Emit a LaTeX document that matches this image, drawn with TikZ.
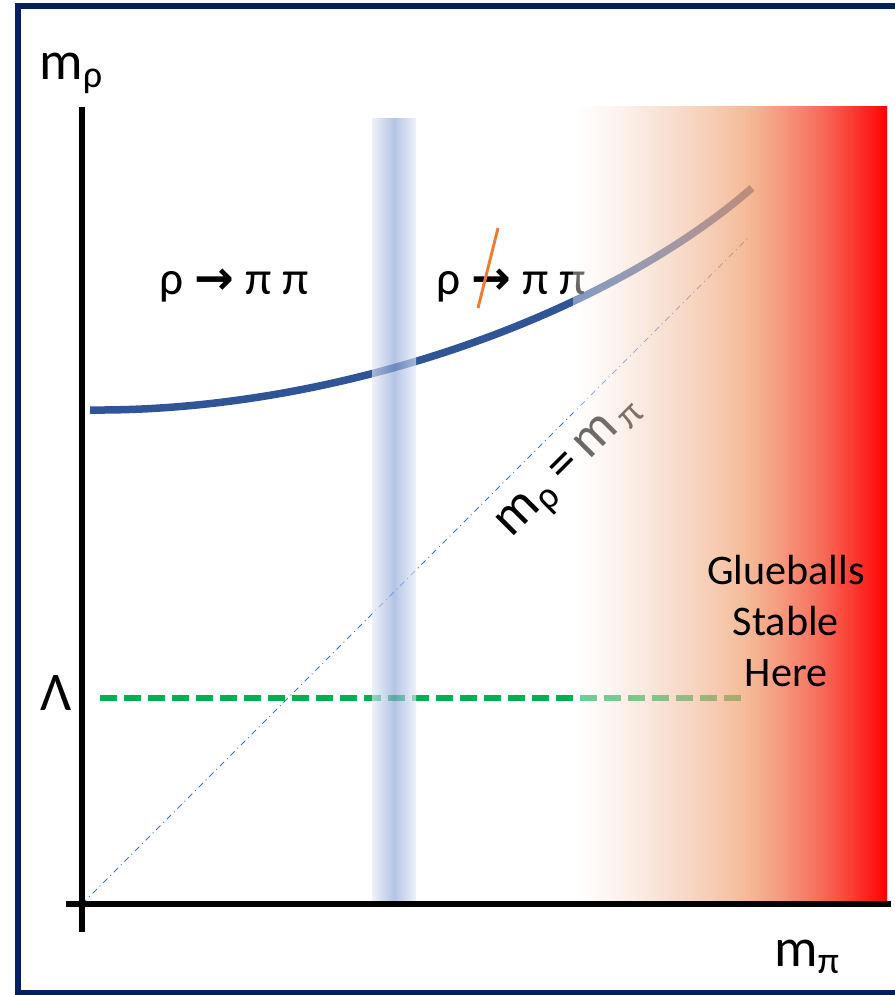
\documentclass[tikz,border=0pt]{standalone}
\usepackage{fontspec}
\setmainfont{Carlito}
\newfontfamily\arrowfont{DejaVu Sans}
\usetikzlibrary{fadings}
\definecolor{framenavy}{HTML}{002060}
\definecolor{curveblue}{HTML}{2F5597}
\definecolor{diagblue}{HTML}{4472C4}
\definecolor{lambdagreen}{HTML}{00B050}
\definecolor{slashorange}{HTML}{ED7D31}
\definecolor{bandedge}{HTML}{E4EAF6}
\definecolor{bandmid}{HTML}{8CA5D7}
\definecolor{peachA}{HTML}{F3CCB5}
\definecolor{peachB}{HTML}{F0A070}
\definecolor{redA}{HTML}{F55A45}
\pgfdeclarehorizontalshading{glueshade}{100bp}{color(0bp)=(white); color(25bp)=(white); color(39bp)=(peachA); color(53bp)=(peachB); color(64bp)=(redA); color(75bp)=(red); color(100bp)=(red)}
\tikzfading[name=gluefade, left color=transparent!60, right color=transparent!0]
\tikzset{
  axislabel/.style={font=\fontsize{15.5}{18}\selectfont},
  decaylabel/.style={anchor=base, font=\fontsize{13.5}{16}\selectfont},
  axisline/.style={line width=0.06cm}
}
\begin{document}
\begin{tikzpicture}
\useasboundingbox (0,0) rectangle (8.94,9.95);
\coordinate (O) at (0.82,0.91);
\coordinate (diagtop) at (7.48,7.57);
\coordinate (curvestart) at (0.90,5.85);
\coordinate (curveend) at (7.52,8.07);
\coordinate (lambdastart) at (1.00,2.97);
\coordinate (lambdaend) at (7.45,2.97);
\draw[diagblue, line width=0.01cm, dash pattern=on 0.06cm off 0.04cm on 0.01cm off 0.04cm] (O) -- (diagtop);
\draw[curveblue, line width=0.075cm] (curvestart) .. controls (3.30,5.83) and (6.00,6.75) .. (curveend);
\draw[lambdagreen, line width=0.055cm, dash pattern=on 0.17cm off 0.07cm] (lambdastart) -- (lambdaend);
\node[decaylabel] (decay) at (2.34,7.00) {ρ {\arrowfont\bfseries →} π π};
\node[decaylabel] (nodecay) at (5.11,7.00) {ρ {\arrowfont\bfseries →} π π};
\coordinate (slashbot) at (4.78,6.87);
\coordinate (slashtop) at (4.98,7.67);
\draw[slashorange, line width=0.03cm] (slashbot) -- (slashtop);
\node[axislabel, rotate=45] (equal) at (5.72,5.26) {m\textsubscript{ρ}\,=\,m\textsubscript{\,π}};
\shade[left color=bandedge, right color=bandedge, middle color=bandmid, opacity=0.65] (3.72,0.91) rectangle (4.16,8.76);
\shade[shading=glueshade, path fading=gluefade] (5.73,0.95) rectangle (8.87,8.89);
\coordinate (xstart) at (0.66,0.91);
\coordinate (xend) at (8.91,0.91);
\coordinate (ybot) at (0.82,0.63);
\coordinate (ytop) at (0.82,8.88);
\draw[axisline] (xstart) -- (xend);
\draw[axisline] (ybot) -- (ytop);
\node[axislabel, anchor=base west] (mrho) at (0.27,9.15) {m\textsubscript{ρ}};
\node[axislabel, anchor=base west] (mpi) at (7.62,0.29) {m\textsubscript{π}};
\node[axislabel, anchor=base] (lambda) at (0.56,2.84) {Λ};
\node[align=center, font=\fontsize{12}{14.5}\selectfont] (glue) at (7.86,3.74) {Glueballs\\Stable\\Here};
\draw[framenavy, line width=0.06cm] (0.18,0.02) rectangle (9.05,9.89);
\end{tikzpicture}
\end{document}
